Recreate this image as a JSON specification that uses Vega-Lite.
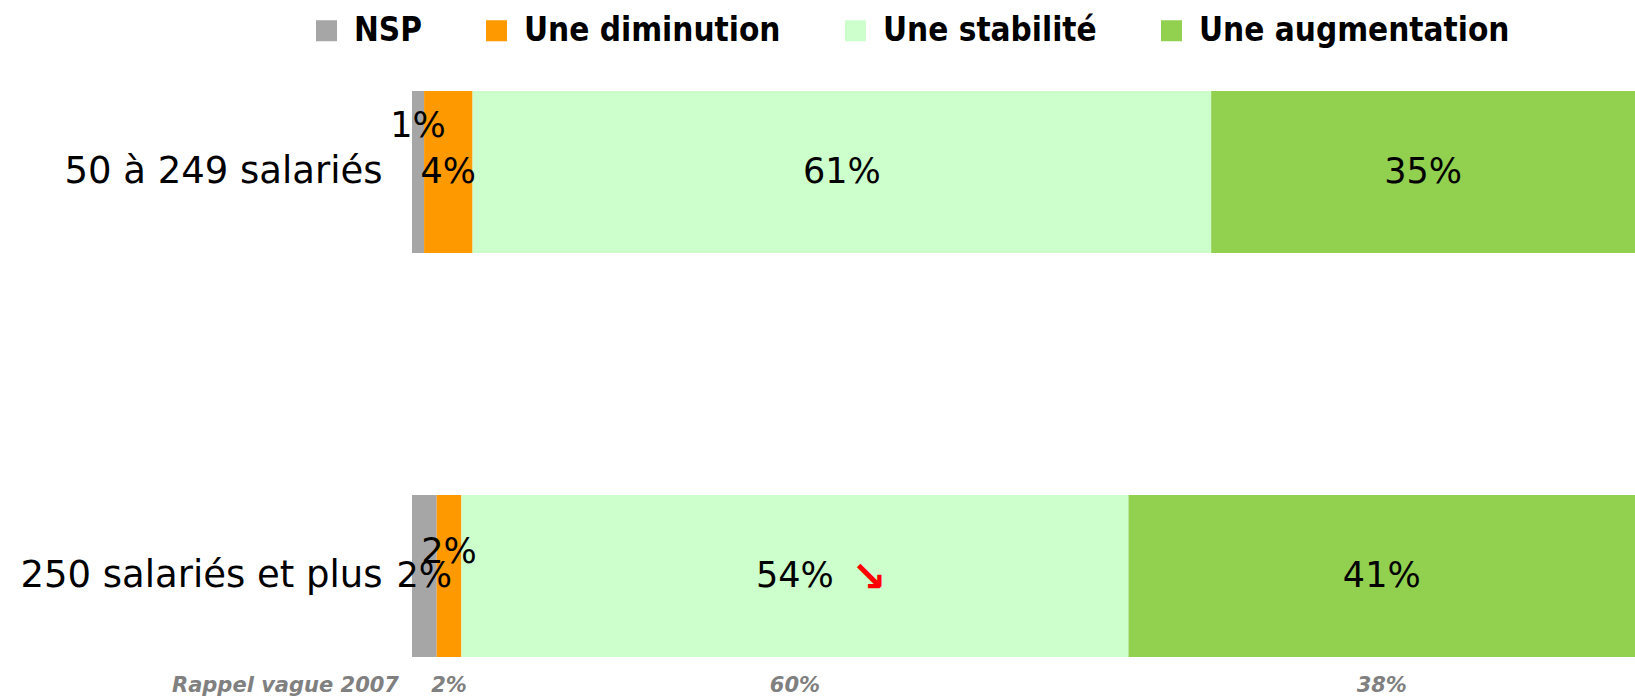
{
  "$schema": "https://vega.github.io/schema/vega-lite/v6.json",
  "autosize": {"type": "none"},
  "padding": {"left": 412, "top": 60, "right": 0, "bottom": 10},
  "width": 1223,
  "height": 628,
  "background": "white",
  "config": {"view": {"stroke": null}, "font": "DejaVu Sans"},
  "data": {
    "values": [
      {"group": "50 à 249 salariés", "category": "NSP", "value": 1},
      {"group": "50 à 249 salariés", "category": "Une diminution", "value": 4},
      {"group": "50 à 249 salariés", "category": "Une stabilité", "value": 61},
      {"group": "50 à 249 salariés", "category": "Une augmentation", "value": 35},
      {"group": "250 salariés et plus", "category": "NSP", "value": 2},
      {"group": "250 salariés et plus", "category": "Une diminution", "value": 2, "v2007": 2},
      {"group": "250 salariés et plus", "category": "Une stabilité", "value": 54, "v2007": 60, "trend": "down"},
      {"group": "250 salariés et plus", "category": "Une augmentation", "value": 41, "v2007": 38}
    ]
  },
  "transform": [
    {"calculate": "indexof(['NSP','Une diminution','Une stabilité','Une augmentation'], datum.category)", "as": "order"},
    {"stack": "value", "groupby": ["group"], "sort": [{"field": "order", "order": "ascending"}], "offset": "normalize", "as": ["x0", "x1"]},
    {"calculate": "(datum.x0 + datum.x1) / 2", "as": "mid"},
    {"calculate": "datum.value + '%'", "as": "label"}
  ],
  "encoding": {
    "y": {
      "field": "group",
      "type": "nominal",
      "sort": ["50 à 249 salariés", "250 salariés et plus"],
      "scale": {"paddingInner": 0.599, "paddingOuter": 0.0767},
      "axis": {
        "title": null,
        "domain": false,
        "ticks": false,
        "labelFont": "DejaVu Sans",
        "labelFontSize": 37,
        "labelColor": "#000000",
        "labelPadding": 30,
        "labelLimit": 600
      }
    }
  },
  "layer": [
    {
      "mark": {"type": "bar", "strokeWidth": 0},
      "encoding": {
        "x": {"field": "x0", "type": "quantitative", "scale": {"domain": [0, 1], "nice": false, "zero": true}, "axis": null},
        "x2": {"field": "x1"},
        "color": {
          "field": "category",
          "type": "nominal",
          "scale": {
            "domain": ["NSP", "Une diminution", "Une stabilité", "Une augmentation"],
            "range": ["#A6A6A6", "#FF9900", "#CCFFCC", "#92D050"]
          },
          "legend": {
            "title": null,
            "orient": "none",
            "direction": "horizontal",
            "legendX": -102,
            "legendY": -46,
            "padding": 0,
            "symbolType": "square",
            "symbolSize": 441,
            "symbolStrokeWidth": 0,
            "symbolOpacity": 1,
            "labelFont": "DejaVu Sans Condensed",
            "labelFontWeight": "bold",
            "labelFontSize": 33,
            "labelColor": "#000000",
            "labelOffset": 11,
            "columnPadding": 58,
            "labelLimit": 600
          }
        },
        "order": {"field": "order"}
      }
    },
    {
      "transform": [{"filter": "!((datum.group == '50 à 249 salariés' && datum.category == 'NSP') || (datum.group == '250 salariés et plus' && datum.category == 'Une diminution'))"}],
      "mark": {"type": "text", "font": "DejaVu Sans", "fontSize": 35, "color": "#000000", "align": "center", "baseline": "middle"},
      "encoding": {
        "x": {"field": "mid", "type": "quantitative"},
        "text": {"field": "label"}
      }
    },
    {
      "transform": [{"filter": "datum.group == '50 à 249 salariés' && datum.category == 'NSP'"}],
      "mark": {"type": "text", "font": "DejaVu Sans", "fontSize": 35, "color": "#000000", "align": "center", "baseline": "middle", "dy": -46},
      "encoding": {
        "x": {"field": "mid", "type": "quantitative"},
        "text": {"field": "label"}
      }
    },
    {
      "transform": [{"filter": "datum.group == '250 salariés et plus' && datum.category == 'Une diminution'"}],
      "mark": {"type": "text", "font": "DejaVu Sans", "fontSize": 35, "color": "#000000", "align": "center", "baseline": "middle", "dy": -24},
      "encoding": {
        "x": {"field": "mid", "type": "quantitative"},
        "text": {"field": "label"}
      }
    },
    {
      "transform": [{"filter": "datum.trend == 'down'"}],
      "mark": {"type": "text", "font": "DejaVu Sans", "fontSize": 42, "fontWeight": "bold", "color": "#FF0000", "align": "center", "baseline": "middle", "dx": 74, "dy": 2, "text": "↘"},
      "encoding": {
        "x": {"field": "mid", "type": "quantitative"}
      }
    },
    {
      "transform": [{"filter": "isValid(datum.v2007)"}, {"calculate": "datum.v2007 + '%'", "as": "label2007"}],
      "mark": {"type": "text", "font": "DejaVu Sans", "fontSize": 21, "fontWeight": "bold", "fontStyle": "italic", "color": "#808080", "align": "center", "baseline": "middle", "dy": 110},
      "encoding": {
        "x": {"field": "mid", "type": "quantitative"},
        "text": {"field": "label2007"}
      }
    },
    {
      "transform": [{"filter": "datum.group == '250 salariés et plus' && datum.category == 'NSP'"}],
      "mark": {"type": "text", "font": "DejaVu Sans", "fontSize": 21, "fontWeight": "bold", "fontStyle": "italic", "color": "#808080", "align": "right", "baseline": "middle", "dx": -13, "dy": 110, "text": "Rappel vague 2007"},
      "encoding": {
        "x": {"field": "x0", "type": "quantitative"}
      }
    }
  ]
}
